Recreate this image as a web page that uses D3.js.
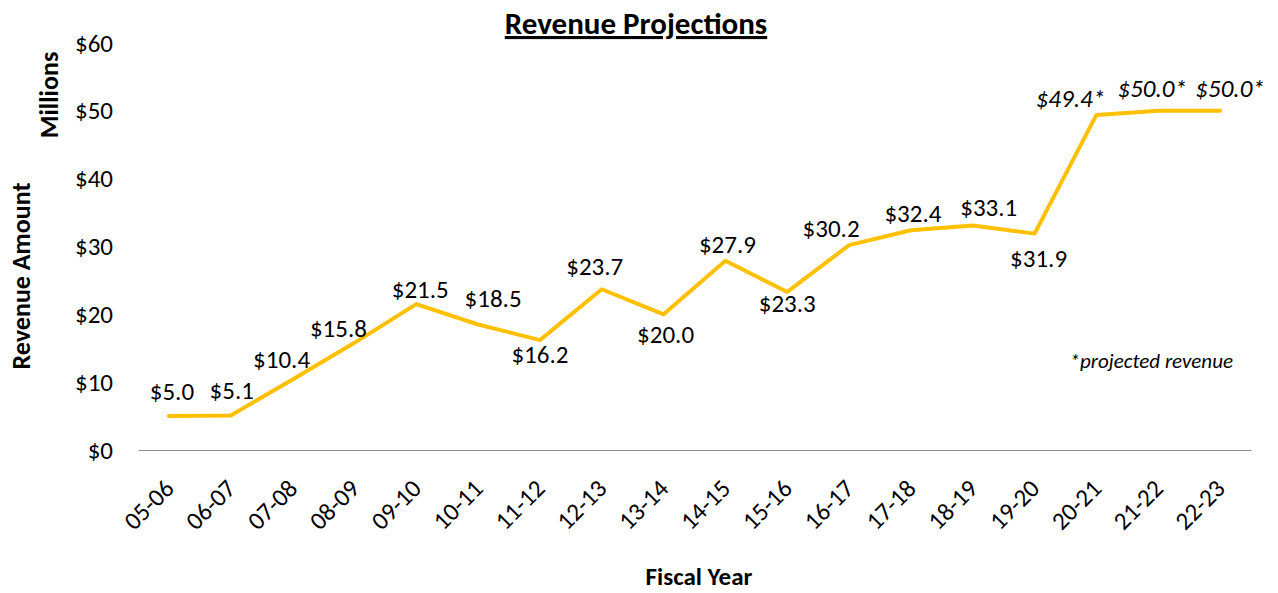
<!DOCTYPE html>
<html>
<head>
<meta charset="utf-8">
<script src="https://cdn.jsdelivr.net/npm/d3@7"></script>
<style>
  body { margin: 0; background: #fff; }
  text { font-family: Carlito, Lato, "Open Sans", sans-serif; fill: #000; }
</style>
</head>
<body>
<div id="wrapper"></div>
<script>
// fiscal years and revenue in millions
const years = ["05-06","06-07","07-08","08-09","09-10","10-11","11-12","12-13","13-14",
  "14-15","15-16","16-17","17-18","18-19","19-20","20-21","21-22","22-23"];
const revenue = [5.0, 5.1, 10.4, 15.8, 21.5, 18.5, 16.2, 23.7, 20.0,
  27.9, 23.3, 30.2, 32.4, 33.1, 31.9, 49.4, 50.0, 50.0];
const projected = [false,false,false,false,false,false,false,false,false,
  false,false,false,false,false,false,true,true,true];
const yTicks = [0, 10, 20, 30, 40, 50, 60];

// hand-placed data label offsets (dx, dy from the point), like the excel chart
const labelNudge = [[3,-16],[1,-16],[-11,-11],[-16,-6],[4,-6],[15,-18],[0,23],[-7,-14],[2,29],
  [2,-8],[0,20],[-18,-8],[2,-8],[16,-9],[4,33],[-26,-8],[-6,-14],[10,-14]];

const dataset = years.map((y, i) => ({
  year: y, value: revenue[i], proj: projected[i], nudge: labelNudge[i]
}));

const dimensions = {
  width: 1278,
  height: 593,
  margin: { top: 43, right: 27, bottom: 143, left: 138 }
};
dimensions.boundedWidth = dimensions.width - dimensions.margin.left - dimensions.margin.right;
dimensions.boundedHeight = dimensions.height - dimensions.margin.top - dimensions.margin.bottom;

const svg = d3.select("#wrapper").append("svg")
  .attr("width", dimensions.width)
  .attr("height", dimensions.height);

const bounds = svg.append("g")
  .attr("transform", `translate(${dimensions.margin.left},${dimensions.margin.top})`);

const xScale = d3.scalePoint()
  .domain(years)
  .range([0, dimensions.boundedWidth])
  .padding(0.5);

const yScale = d3.scaleLinear()
  .domain([0, 60])
  .range([dimensions.boundedHeight, 0]);

// y axis labels
const yAxis = d3.axisLeft(yScale)
  .tickValues(yTicks)
  .tickSize(0)
  .tickPadding(25)
  .tickFormat(d => "$" + d);
const yAxisG = bounds.append("g").call(yAxis);
yAxisG.select(".domain").remove();
yAxisG.selectAll("text").style("font-size", "25px").attr("fill", "#000");

// x axis
const xAxis = d3.axisBottom(xScale).tickSize(0).tickPadding(0);
const xAxisG = bounds.append("g")
  .attr("transform", `translate(0,${dimensions.boundedHeight})`)
  .call(xAxis);
xAxisG.select(".domain").attr("stroke", "#8c8c8c").attr("stroke-width", 1.2);
xAxisG.selectAll("text")
  .style("font-size", "25px")
  .attr("fill", "#000")
  .attr("text-anchor", "end")
  .attr("dy", 0)
  .attr("y", 0)
  .attr("transform", "translate(6,40) rotate(-45)");

// line
const line = d3.line()
  .x(d => xScale(d.year))
  .y(d => yScale(d.value));

bounds.append("path")
  .datum(dataset)
  .attr("fill", "none")
  .attr("stroke", "#FFC000")
  .attr("stroke-width", 4)
  .attr("stroke-linejoin", "round")
  .attr("stroke-linecap", "round")
  .attr("d", line);

// data labels
bounds.selectAll(".dlabel")
  .data(dataset)
  .join("text")
    .attr("class", "dlabel")
    .attr("x", d => xScale(d.year) + d.nudge[0])
    .attr("y", d => yScale(d.value) + d.nudge[1])
    .attr("text-anchor", "middle")
    .style("font-size", "25px")
    .style("font-style", d => d.proj ? "italic" : "normal")
    .text(d => "$" + d.value.toFixed(1) + (d.proj ? "*" : ""));

// title
svg.append("text")
  .attr("x", 636)
  .attr("y", 34)
  .attr("text-anchor", "middle")
  .style("font-size", "31px")
  .style("font-weight", "bold")
  .style("text-decoration", "underline")
  .text("Revenue Projections");

// axis titles
svg.append("text")
  .attr("transform", "translate(30,276) rotate(-90)")
  .attr("text-anchor", "middle")
  .style("font-size", "26px")
  .style("font-weight", "bold")
  .text("Revenue Amount");

svg.append("text")
  .attr("transform", "translate(58,95) rotate(-90)")
  .attr("text-anchor", "middle")
  .style("font-size", "26px")
  .style("font-weight", "bold")
  .text("Millions");

svg.append("text")
  .attr("x", 699)
  .attr("y", 585)
  .attr("text-anchor", "middle")
  .style("font-size", "25px")
  .style("font-weight", "bold")
  .text("Fiscal Year");

svg.append("text")
  .attr("x", 1233)
  .attr("y", 368)
  .attr("text-anchor", "end")
  .style("font-size", "21px")
  .style("font-style", "italic")
  .text("*projected revenue");
</script>
</body>
</html>
